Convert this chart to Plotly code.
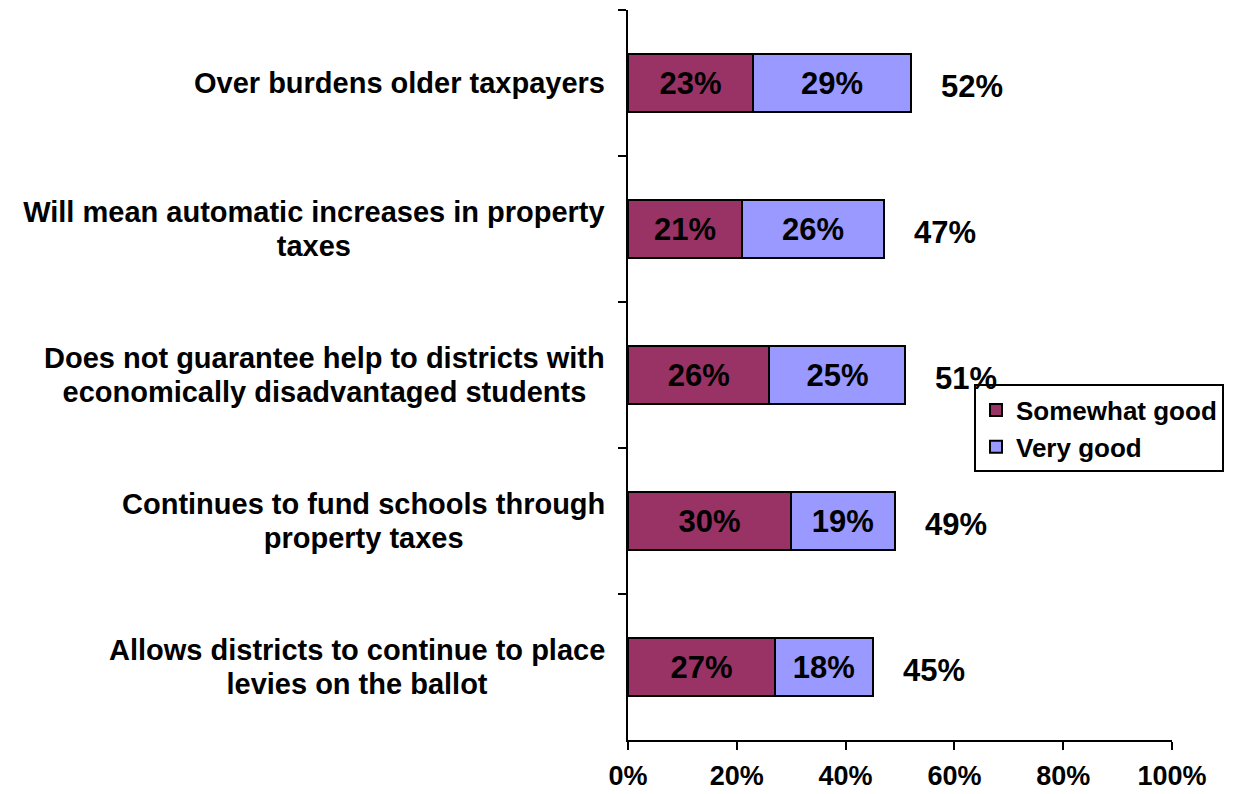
import plotly.graph_objects as go

categories = [
    "Over burdens older taxpayers",
    "Will mean automatic increases in property<br>taxes",
    "Does not guarantee help to districts with<br>economically disadvantaged students",
    "Continues to fund schools through<br>property taxes",
    "Allows districts to continue to place<br>levies on the ballot",
]
somewhat_good = [23, 21, 26, 30, 27]
very_good = [29, 26, 25, 19, 18]
totals = [52, 47, 51, 49, 45]
x_ticks = [0, 20, 40, 60, 80, 100]
x_tick_labels = ["0%", "20%", "40%", "60%", "80%", "100%"]

FONT = "Liberation Sans, Arial, sans-serif"
CAT_SIZE = 29
LINE_H = 34

# Arial/Liberation Sans Bold advance widths (1/1000 em) to centre wrapped labels
_W = {" ": 278, "a": 556, "b": 611, "c": 556, "d": 611, "e": 556, "f": 333, "g": 611,
      "h": 611, "i": 278, "j": 278, "k": 556, "l": 278, "m": 889, "n": 611, "o": 611,
      "p": 611, "q": 611, "r": 389, "s": 556, "t": 333, "u": 611, "v": 556, "w": 778,
      "x": 556, "y": 556, "z": 500, "A": 722, "C": 722, "D": 722, "O": 778, "W": 944}


def text_width(s, size):
    return sum(_W.get(ch, 600) for ch in s) * size / 1000.0


fig = go.Figure()
fig.add_trace(go.Bar(
    y=categories, x=somewhat_good, orientation="h", name="Somewhat good",
    marker=dict(color="#993366", line=dict(color="black", width=2)),
    text=[f"{v}%" for v in somewhat_good], textposition="inside",
    insidetextanchor="middle", constraintext="none",
    textfont=dict(family=FONT, size=31, color="black", weight="bold"),
    width=0.4,
))
fig.add_trace(go.Bar(
    y=categories, x=very_good, orientation="h", name="Very good",
    marker=dict(color="#9999FF", line=dict(color="black", width=2)),
    text=[f"{v}%" for v in very_good], textposition="inside",
    insidetextanchor="middle", constraintext="none",
    textfont=dict(family=FONT, size=31, color="black", weight="bold"),
    width=0.4,
))

for cat, tot in zip(categories, totals):
    fig.add_annotation(x=tot, y=cat, xref="x", yref="y", text=f"{tot}%",
                       showarrow=False, xanchor="left", xshift=28, yshift=-3,
                       font=dict(family=FONT, size=31, color="black", weight="bold"))
    lines = cat.split("<br>")
    n = len(lines)
    box_w = max(text_width(l, CAT_SIZE) for l in lines) + 4
    for i, line in enumerate(lines):
        fig.add_annotation(x=0, y=cat, xref="paper", yref="y", text=line,
                           showarrow=False, xanchor="right", xshift=-20, align="center",
                           width=box_w, borderpad=0,
                           yshift=((n - 1) / 2 - i) * LINE_H,
                           font=dict(family=FONT, size=CAT_SIZE, color="black", weight="bold"))

fig.update_layout(
    barmode="stack",
    width=1233, height=794,
    margin=dict(l=620, r=69, t=2, b=62),
    plot_bgcolor="white", paper_bgcolor="white",
    font=dict(family=FONT, color="black"),
    legend=dict(
        x=0.636, y=0.487, xanchor="left", yanchor="top",
        bordercolor="black", borderwidth=2, bgcolor="white",
        font=dict(family=FONT, size=26, color="black", weight="bold"),
        traceorder="normal", tracegroupgap=0,
    ),
    xaxis=dict(
        range=[0, 100], tickvals=x_ticks, ticktext=x_tick_labels,
        showgrid=False, zeroline=False, showline=True, linecolor="black", linewidth=2,
        ticks="outside", ticklen=8, tickwidth=2, tickcolor="black",
        tickfont=dict(family=FONT, size=27, color="black", weight="bold"),
        ticklabelstandoff=3,
    ),
    yaxis=dict(
        categoryorder="array", categoryarray=categories, autorange="reversed",
        showgrid=False, zeroline=False, showline=True, linecolor="black", linewidth=2,
        ticks="outside", ticklen=8, tickwidth=2, tickcolor="black",
        tickson="boundaries", showticklabels=False,
    ),
)

fig.write_html("out.html")
